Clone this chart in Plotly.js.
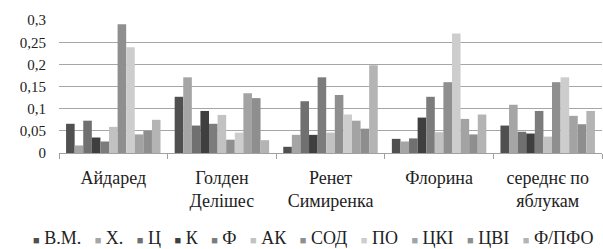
<!DOCTYPE html>
<html>
<head>
<meta charset="utf-8">
<script src="https://cdn.plot.ly/plotly-3.0.1.min.js"></script>
<style>html,body{margin:0;padding:0;background:#fff;}#chart{width:603px;height:249px;}</style>
</head>
<body>
<div id="chart"></div>
<script>
// Categories (apple varieties)
const categories = ["Айдаред", "Голден<br>Делішес", "Ренет<br>Симиренка", "Флорина", "середнє по<br>яблукам"];

// Series names
const seriesNames = ["В.М.", "Х.", "Ц", "К", "Ф", "АК", "СОД", "ПО", "ЦКІ", "ЦВІ", "Ф/ПФО"];

// Series values (one array per series, in category order)
const vVM   = [0.066, 0.127, 0.014, 0.032, 0.062];
const vX    = [0.017, 0.171, 0.041, 0.026, 0.109];
const vC    = [0.073, 0.062, 0.117, 0.033, 0.048];
const vK    = [0.035, 0.095, 0.041, 0.080, 0.044];
const vF    = [0.026, 0.066, 0.171, 0.127, 0.095];
const vAK   = [0.059, 0.086, 0.046, 0.047, 0.037];
const vSOD  = [0.291, 0.030, 0.131, 0.160, 0.160];
const vPO   = [0.239, 0.046, 0.087, 0.270, 0.171];
const vCKI  = [0.042, 0.135, 0.073, 0.077, 0.084];
const vCVI  = [0.050, 0.124, 0.055, 0.042, 0.065];
const vFPFO = [0.075, 0.029, 0.198, 0.087, 0.095];
const seriesValues = [vVM, vX, vC, vK, vF, vAK, vSOD, vPO, vCKI, vCVI, vFPFO];

// Series colours
const seriesColors = ["#505050", "#a5a5a5", "#707070", "#3f3f3f", "#7c7c7c", "#c2c2c2",
                      "#8f8f8f", "#cdcdcd", "#a3a3a3", "#8e8e8e", "#b4b4b4"];

const serif = "'Times New Roman', 'Liberation Serif', 'DejaVu Serif', serif";

const traces = seriesNames.map((name, i) => ({
  type: "bar",
  name: name,
  x: categories,
  y: seriesValues[i],
  marker: {color: seriesColors[i], line: {width: 0}},
  showlegend: false
}));

// Legend built as one text line: coloured square glyph + series name
const nb = "\u00a0";
const legendText = seriesNames.map((name, i) =>
  '<span style="color:' + seriesColors[i] + ';font-size:11px">\u25A0</span>' + nb + name
).join(nb + nb + nb);

const layout = {
  width: 603,
  height: 249,
  margin: {l: 59, r: 1, t: 20, b: 96, pad: 0},
  paper_bgcolor: "#ffffff",
  plot_bgcolor: "#ffffff",
  separators: ", ",
  barmode: "group",
  bargap: 0.13,
  bargroupgap: 0,
  showlegend: false,
  font: {family: serif, color: "#222222", size: 15},
  xaxis: {
    type: "category",
    showline: true,
    linecolor: "#a0a0a0",
    linewidth: 1,
    ticks: "outside",
    tickson: "boundaries",
    ticklen: 5,
    tickcolor: "#a0a0a0",
    showgrid: false,
    tickfont: {family: serif, size: 18, color: "#222222"},
    ticklabelstandoff: 8,
    fixedrange: true
  },
  yaxis: {
    range: [0, 0.3005],
    dtick: 0.05,
    tick0: 0,
    showgrid: true,
    gridcolor: "#a6a6a6",
    gridwidth: 1,
    zeroline: false,
    showline: false,
    ticks: "",
    tickfont: {family: serif, size: 15, color: "#222222"},
    ticklabelstandoff: 12,
    fixedrange: true
  },
  annotations: [{
    xref: "paper", yref: "paper",
    x: 0.468, y: -0.64,
    xanchor: "center", yanchor: "middle",
    showarrow: false,
    text: legendText,
    font: {family: serif, size: 18, color: "#222222"}
  }]
};

Plotly.newPlot("chart", traces, layout, {displayModeBar: false, staticPlot: true});
</script>
</body>
</html>
